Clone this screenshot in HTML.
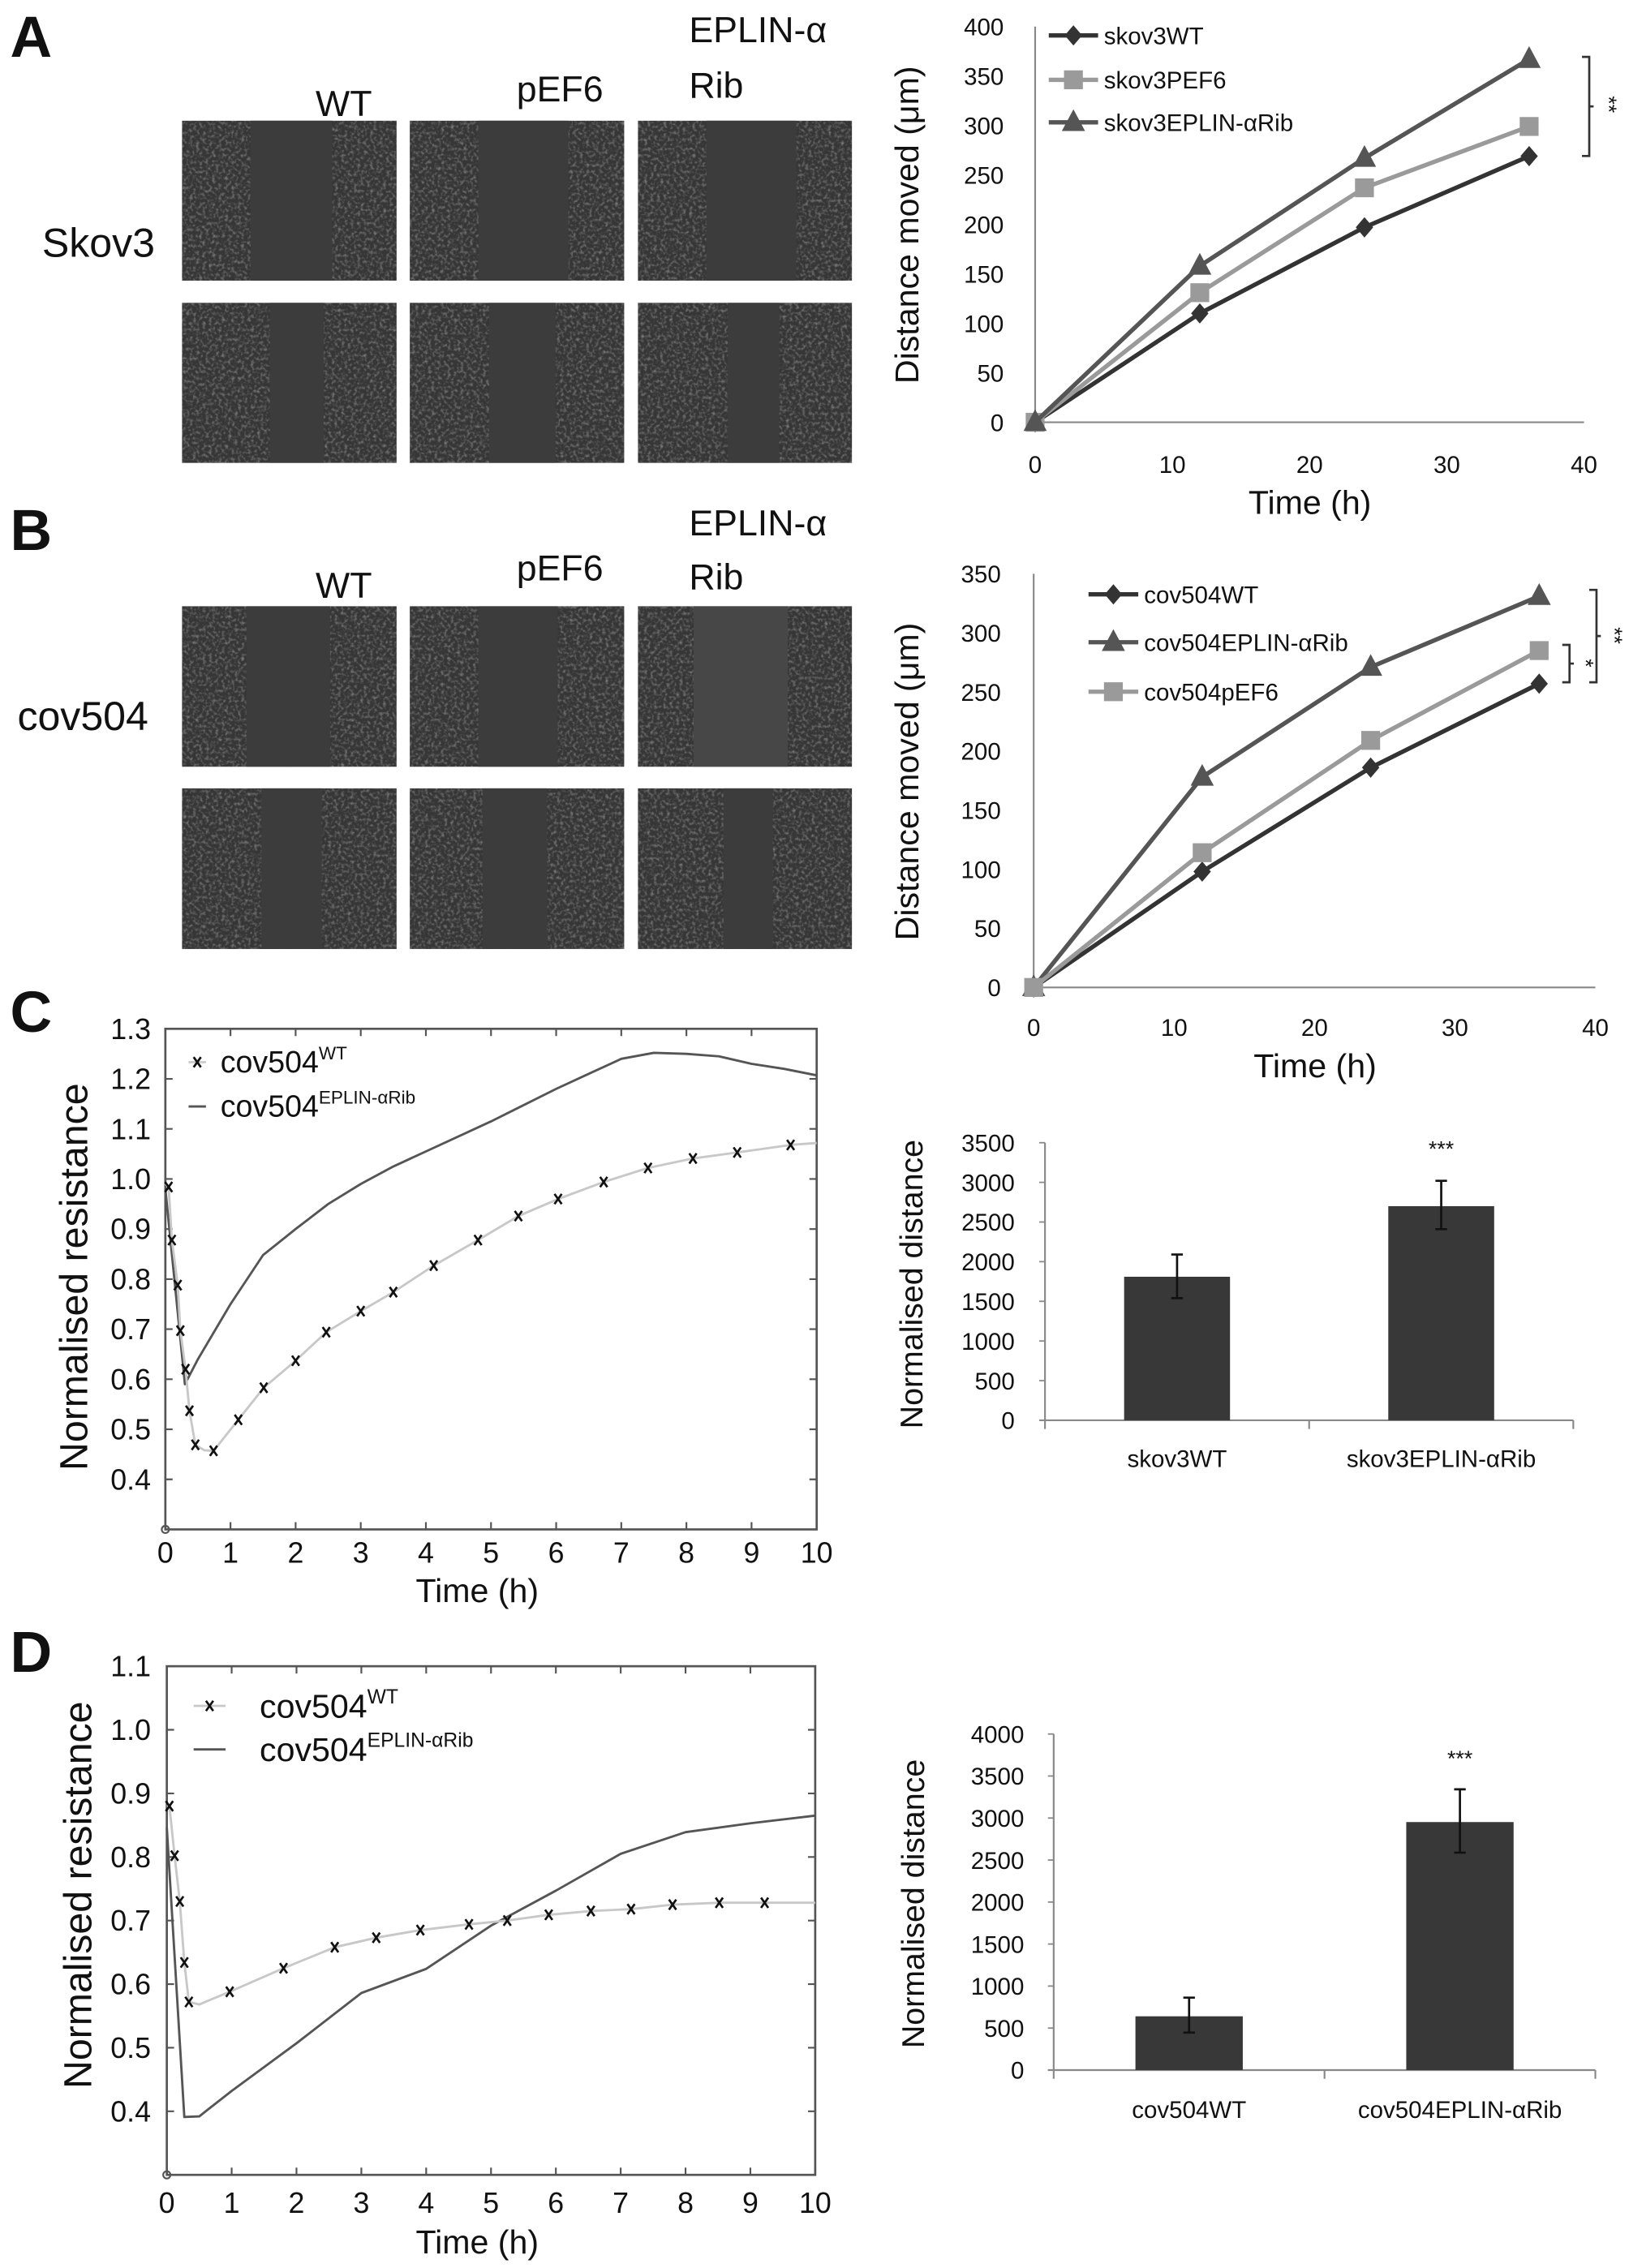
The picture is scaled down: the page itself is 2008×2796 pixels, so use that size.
<!DOCTYPE html>
<html><head><meta charset="utf-8"><style>
html,body{margin:0;padding:0;background:#fff;}
svg{display:block;}
text{font-family:"Liberation Sans",Arial,sans-serif;fill:#111;}
</style></head><body>
<svg id="fig" xmlns="http://www.w3.org/2000/svg" width="2008" height="2796" viewBox="0 0 1123 1563" preserveAspectRatio="none">
<defs>
<filter id="tex" x="0" y="0" width="1" height="1">
<feTurbulence type="fractalNoise" baseFrequency="0.45" numOctaves="2" seed="3" result="n"/>
<feColorMatrix in="n" type="matrix" values="0 0 0 0 0.55  0 0 0 0 0.55  0 0 0 0 0.55  0 0 0 1.1 -0.5" result="c"/>
<feComposite in="c" in2="SourceGraphic" operator="in"/>
</filter>
</defs>
<g id="root"></g>
</svg>
<script>
// ---------- data ----------
const distTime = [0, 12, 24, 36];
const distTicksA = [0, 50, 100, 150, 200, 250, 300, 350, 400];
const distTicksB = [0, 50, 100, 150, 200, 250, 300, 350];
const timeTicks = [0, 10, 20, 30, 40];
const aWT = [0, 110, 197, 269];
const aPEF6 = [0, 131, 237, 299];
const aRib = [0, 158, 267, 367];
const bWT = [0, 98, 186, 257];
const bRib = [0, 178, 271, 331];
const bPEF6 = [0, 114, 209, 285];

const cBarCats = ['skov3WT', 'skov3EPLIN-αRib'];
const cBarVals = [1810, 2700];
const cBarHi = [2090, 3020];
const cBarLo = [1540, 2410];
const cBarTicks = [0, 500, 1000, 1500, 2000, 2500, 3000, 3500];
const dBarCats = ['cov504WT', 'cov504EPLIN-αRib'];
const dBarVals = [640, 2952];
const dBarHi = [862, 3342];
const dBarLo = [446, 2588];
const dBarTicks = [0, 500, 1000, 1500, 2000, 2500, 3000, 3500, 4000];

const hourTicks = [0, 1, 2, 3, 4, 5, 6, 7, 8, 9, 10];
const cResTicks = [0.4, 0.5, 0.6, 0.7, 0.8, 0.9, 1.0, 1.1, 1.2, 1.3];
const dResTicks = [0.4, 0.5, 0.6, 0.7, 0.8, 0.9, 1.0, 1.1];
const cWTh = [0, 0.05, 0.1, 0.19, 0.23, 0.31, 0.37, 0.46, 0.6, 0.74, 1.12, 1.51, 2.0, 2.47, 3.0, 3.5, 4.12, 4.8, 5.42, 6.03, 6.73, 7.41, 8.1, 8.78, 9.6, 10];
const cWTv = [0.99, 0.984, 0.878, 0.788, 0.697, 0.62, 0.537, 0.469, 0.458, 0.457, 0.519, 0.583, 0.637, 0.694, 0.736, 0.774, 0.827, 0.878, 0.926, 0.96, 0.994, 1.022, 1.041, 1.053, 1.068, 1.072];
const cWTmarkIdx = [1, 2, 3, 4, 5, 6, 7, 9, 10, 11, 12, 13, 14, 15, 16, 17, 18, 19, 20, 21, 22, 23, 24];
const cRibh = [0, 0.3, 0.5, 1.0, 1.5, 2.0, 2.5, 3.0, 3.5, 4.0, 5.0, 6.0, 6.5, 7.0, 7.5, 8.0, 8.5, 9.0, 9.5, 10];
const cRibv = [0.98, 0.59, 0.64, 0.75, 0.848, 0.9, 0.95, 0.99, 1.025, 1.055, 1.115, 1.18, 1.21, 1.24, 1.252, 1.25, 1.245, 1.23, 1.22, 1.207];
const dWTh = [0, 0.04, 0.12, 0.2, 0.27, 0.34, 0.5, 0.97, 1.8, 2.59, 3.23, 3.91, 4.66, 5.25, 5.89, 6.54, 7.16, 7.8, 8.52, 9.22, 10];
const dWTv = [0.88, 0.88, 0.802, 0.73, 0.634, 0.572, 0.568, 0.588, 0.625, 0.658, 0.673, 0.685, 0.694, 0.7, 0.709, 0.715, 0.718, 0.725, 0.728, 0.728, 0.728];
const dWTmarkIdx = [1, 2, 3, 4, 5, 7, 8, 9, 10, 11, 12, 13, 14, 15, 16, 17, 18, 19];
const dRibh = [0, 0.27, 0.5, 1, 2, 3, 4, 5, 6, 7, 8, 9, 10];
const dRibv = [0.846, 0.391, 0.392, 0.432, 0.507, 0.586, 0.624, 0.692, 0.747, 0.805, 0.839, 0.853, 0.865];

// ---------- helpers ----------
const NS = 'http://www.w3.org/2000/svg';
const root = document.getElementById('root');
function mk(tag, attrs, parent) {
  const e = document.createElementNS(NS, tag);
  for (const k in attrs) e.setAttribute(k, attrs[k]);
  (parent || root).appendChild(e);
  return e;
}
function txt(s, x, y, size, anchor, parent, extra) {
  const t = mk('text', Object.assign({x: x, y: y, 'font-size': size, 'text-anchor': anchor || 'start'}, extra || {}), parent);
  t.textContent = s;
  return t;
}
function lin(a0, a1, p0, p1) { return v => p0 + (v - a0) * (p1 - p0) / (a1 - a0); }

// ---------- panel letters ----------
[['A', 39], ['B', 379], ['C', 711], ['D', 1152]].forEach(p => {
  const t = txt(p[0], 7, p[1], 40, 'start', root, {'font-weight': 'bold'});
  
  
});

// ---------- micrographs ----------
const imgCols = [[125.5, 273.4], [282.5, 430.3], [439.8, 587.3]];
const imgRows = [[83.2, 193.4], [208.7, 319], [417.8, 528.4], [543.3, 654]];
const wound = [
  [[0.32, 0.70], [0.32, 0.74], [0.32, 0.74]],
  [[0.41, 0.66], [0.37, 0.68], [0.42, 0.66]],
  [[0.30, 0.69], [0.32, 0.69], [0.26, 0.70]],
  [[0.37, 0.65], [0.34, 0.64], [0.40, 0.63]]
];
imgRows.forEach((r, ri) => {
  imgCols.forEach((c, ci) => {
    const g = mk('g', {});
    
    
    const w = c[1] - c[0], h = r[1] - r[0];
    mk('rect', {x: c[0], y: r[0], width: w, height: h, fill: '#363636'}, g);
    mk('rect', {x: c[0], y: r[0], width: w, height: h, fill: '#363636', filter: 'url(#tex)'}, g);
    const wd = wound[ri][ci];
    const fillW = (ri === 2 && ci === 2) ? '#474747' : '#3c3c3c';
    mk('rect', {x: c[0] + wd[0] * w, y: r[0], width: (wd[1] - wd[0]) * w, height: h, fill: fillW}, g);
  });
});
[['WT', 237, 80], ['pEF6', 386, 70], ['EPLIN-α', 475, 29, 'start'], ['Rib', 475, 67.5, 'start'],
 ['WT', 237, 412], ['pEF6', 386, 400], ['EPLIN-α', 475, 369, 'start'], ['Rib', 475, 406, 'start'],
 ['Skov3', 29, 177, 'start', 28], ['cov504', 12, 503, 'start', 28]].forEach((l, i) => {
  const t = txt(l[0], l[1], l[2], l[4] || 25, l[3] || 'middle');
  
  
});

// ---------- distance line charts ----------
function markerAt(kind, x, y, color, g) {
  let e;
  if (kind === 'diamond') e = mk('polygon', {points: `${x},${y-7} ${x+6},${y} ${x},${y+7} ${x-6},${y}`, fill: color}, g);
  else if (kind === 'square') e = mk('rect', {x: x - 6.5, y: y - 6.5, width: 13, height: 13, fill: color}, g);
  else e = mk('polygon', {points: `${x},${y-9} ${x+8},${y+6} ${x-8},${y+6}`, fill: color}, g);
  return e;
}
function distChart(cfg) {
  const g = mk('g', {});
  
  
  const sx = lin(0, 40, cfg.x0, cfg.x1);
  const sy = lin(0, cfg.ymax, cfg.y0, cfg.ytop);
  const yAxis = mk('line', {x1: cfg.x0, y1: cfg.y0, x2: cfg.x0, y2: cfg.ytop, stroke: '#888', 'stroke-width': 1.2}, g);
  
  
  const xAxis = mk('line', {x1: cfg.x0, y1: cfg.y0, x2: cfg.x1, y2: cfg.y0, stroke: '#888', 'stroke-width': 1.2}, g);
  
  
  cfg.yticks.forEach(v => {
    const t = txt(String(v), cfg.ylabX, sy(v) + 6, 16.5, 'end', g);
    
    
  });
  timeTicks.forEach(v => {
    const t = txt(String(v), sx(v), cfg.xlabY, 16.5, 'middle', g);
    
    
  });
  const xt = txt('Time (h)', cfg.xtitleX, cfg.xtitleY, 23, 'middle', g);
  
  
  const yt = txt('Distance moved (μm)', 0, 0, 23, 'middle', g, {transform: `translate(${cfg.ytitleX},${cfg.ytitleY}) rotate(-90)`});
  
  
  cfg.series.forEach((s, si) => {
    const pts = distTime.map((t, i) => sx(t) + ',' + sy(s.vals[i])).join(' ');
    const pl = mk('polyline', {points: pts, fill: 'none', stroke: s.color, 'stroke-width': 3}, g);
    
    
    distTime.forEach((t, i) => {
      const m = markerAt(s.marker, sx(t), sy(s.vals[i]), s.color, g);
      
      
    });
    const ly = cfg.legY[si];
    const ll = mk('line', {x1: cfg.legX0, y1: ly, x2: cfg.legX1, y2: ly, stroke: s.color, 'stroke-width': 3}, g);
    
    
    const lm = markerAt(s.marker, (cfg.legX0 + cfg.legX1) / 2, ly, s.color, g);
    
    
    const lt = txt(s.label, cfg.legX1 + 4, ly + 6, 16.5, 'start', g);
    
    
  });
  return g;
}
function bracket(x, yA, yB, label, lx, ly, g) {
  const p = mk('path', {d: `M${x-5},${yA} L${x},${yA} L${x},${yB} L${x-5},${yB} M${x},${(yA+yB)/2} L${x+3},${(yA+yB)/2}`, fill: 'none', stroke: '#333', 'stroke-width': 1.5}, g);
  
  
  const t = txt(label, 0, 0, 15, 'middle', g, {transform: `translate(${lx},${ly}) rotate(90)`});
  
  
}
const gA = distChart({name: 'chart-a-distance', x0: 713.6, x1: 1092, y0: 291, ytop: 18.3, ymax: 400, yticks: distTicksA,
  ylabX: 692, xlabY: 326, xtitleX: 903, xtitleY: 354, ytitleX: 633, ytitleY: 155,
  legX0: 723, legX1: 757, legY: [24.4, 55, 84.3],
  series: [{label: 'skov3WT', vals: aWT, color: '#333', marker: 'diamond'},
           {label: 'skov3PEF6', vals: aPEF6, color: '#9a9a9a', marker: 'square'},
           {label: 'skov3EPLIN-αRib', vals: aRib, color: '#555', marker: 'triangle'}]});
bracket(1095.6, 39.2, 107.5, '**', 1104, 72, gA);
const gB = distChart({name: 'chart-b-distance', x0: 712.6, x1: 1099.8, y0: 680.5, ytop: 395.4, ymax: 350, yticks: distTicksB,
  ylabX: 690, xlabY: 714, xtitleX: 906.6, xtitleY: 742.5, ytitleX: 633, ytitleY: 538.6,
  legX0: 750.4, legX1: 784.7, legY: [409.6, 442.6, 476.7],
  series: [{label: 'cov504WT', vals: bWT, color: '#333', marker: 'diamond'},
           {label: 'cov504EPLIN-αRib', vals: bRib, color: '#555', marker: 'triangle'},
           {label: 'cov504pEF6', vals: bPEF6, color: '#9a9a9a', marker: 'square'}]});
bracket(1100.6, 406.5, 470.2, '**', 1108, 438, gB);
bracket(1082, 444.4, 470.2, '*', 1088, 457, gB);

// ---------- bar charts ----------
function barChart(cfg) {
  const g = mk('g', {});
  
  
  const sy = lin(0, cfg.ymax, cfg.y0, cfg.ytop);
  const ya = mk('line', {x1: cfg.x0, y1: cfg.y0, x2: cfg.x0, y2: cfg.ytop, stroke: '#888', 'stroke-width': 1.2}, g);
  
  
  const xa = mk('line', {x1: cfg.x0 - 4, y1: cfg.y0, x2: cfg.x1, y2: cfg.y0, stroke: '#888', 'stroke-width': 1.2}, g);
  
  
  [cfg.x0, (cfg.x0 + cfg.x1) / 2, cfg.x1].forEach(x => {
    const tk = mk('line', {x1: x, y1: cfg.y0, x2: x, y2: cfg.y0 + 6, stroke: '#888', 'stroke-width': 1.2}, g);
    
    
  });
  cfg.ticks.forEach(v => {
    const tk = mk('line', {x1: cfg.x0 - 4, y1: sy(v), x2: cfg.x0, y2: sy(v), stroke: '#888', 'stroke-width': 1}, g);
    
    
    const t = txt(String(v), cfg.ylabX, sy(v) + 6, 16.5, 'end', g);
    
    
  });
  const slot = (cfg.x1 - cfg.x0) / cfg.cats.length;
  cfg.cats.forEach((c, i) => {
    const cx = cfg.x0 + slot * (i + 0.5);
    const b = mk('rect', {x: cx - cfg.bw / 2, y: sy(cfg.vals[i]), width: cfg.bw, height: cfg.y0 - sy(cfg.vals[i]), fill: '#383838'}, g);
    
    
    const eb = mk('path', {d: `M${cx},${sy(cfg.hi[i])} L${cx},${sy(cfg.lo[i])} M${cx-4},${sy(cfg.hi[i])} L${cx+4},${sy(cfg.hi[i])} M${cx-4},${sy(cfg.lo[i])} L${cx+4},${sy(cfg.lo[i])}`, stroke: '#111', 'stroke-width': 1.5, fill: 'none'}, g);
    
    
    const t = txt(c, cx, cfg.catY, 16.5, 'middle', g);
    
    
  });
  const st = txt('***', cfg.x0 + slot * 1.5, cfg.starY, 15, 'middle', g);
  
  
  const yt = txt('Normalised distance', 0, 0, 22, 'middle', g, {transform: `translate(${cfg.ytitleX},${cfg.ytitleY}) rotate(-90)`});
  
  
}
barChart({name: 'chart-c-bar', x0: 720.4, x1: 1084.6, y0: 978.8, ytop: 787.5, ymax: 3500, ticks: cBarTicks, cats: cBarCats,
  vals: cBarVals, hi: cBarHi, lo: cBarLo, bw: 73, ylabX: 699.5, catY: 1011, starY: 797, ytitleX: 636, ytitleY: 885});
barChart({name: 'chart-d-bar', x0: 726.4, x1: 1099.8, y0: 1426.6, ytop: 1195, ymax: 4000, ticks: dBarTicks, cats: dBarCats,
  vals: dBarVals, hi: dBarHi, lo: dBarLo, bw: 74, ylabX: 706, catY: 1459.5, starY: 1217, ytitleX: 637, ytitleY: 1312});

// ---------- resistance charts ----------
function resChart(cfg) {
  const g = mk('g', {});
  
  
  const sx = lin(0, 10, cfg.x0, cfg.x1);
  const sy = lin(1.0, cfg.yref, cfg.y1, cfg.yrefPx);
  const top = sy(cfg.ymax), bot = sy(0.3);
  const fr = mk('rect', {x: cfg.x0, y: top, width: cfg.x1 - cfg.x0, height: bot - top, fill: 'none', stroke: '#555', 'stroke-width': 1.5}, g);
  
  
  hourTicks.forEach(h => {
    const tk = mk('path', {d: `M${sx(h)},${bot} L${sx(h)},${bot-5} M${sx(h)},${top} L${sx(h)},${top+5}`, stroke: '#555', 'stroke-width': 1.2}, g);
    
    
    const t = txt(String(h), sx(h), cfg.xlabY, 20, 'middle', g);
    
    
  });
  cfg.ticks.forEach(v => {
    const tk = mk('path', {d: `M${cfg.x0},${sy(v)} L${cfg.x0+5},${sy(v)} M${cfg.x1},${sy(v)} L${cfg.x1-5},${sy(v)}`, stroke: '#555', 'stroke-width': 1.2}, g);
    
    
    const t = txt(v.toFixed(1), 104, sy(v) + 7, 20, 'end', g);
    
    
  });
  const c0 = mk('circle', {cx: cfg.x0, cy: bot, r: 2.5, fill: 'none', stroke: '#555', 'stroke-width': 1.2}, g);
  
  
  const rib = mk('polyline', {points: cfg.ribH.map((h, i) => sx(h) + ',' + sy(cfg.ribV[i])).join(' '), fill: 'none', stroke: '#555', 'stroke-width': 1.6, 'stroke-linejoin': 'round'}, g);
  
  
  const wt = mk('polyline', {points: cfg.wtH.map((h, i) => sx(h) + ',' + sy(cfg.wtV[i])).join(' '), fill: 'none', stroke: '#c8c8c8', 'stroke-width': 1.6, 'stroke-linejoin': 'round'}, g);
  
  
  cfg.markIdx.forEach(i => {
    const x = sx(cfg.wtH[i]), y = sy(cfg.wtV[i]);
    const m = mk('path', {d: `M${x-2.5},${y-3.5} L${x+2.5},${y+3.5} M${x+2.5},${y-3.5} L${x-2.5},${y+3.5}`, stroke: '#111', 'stroke-width': 1.5}, g);
    
    
  });
  const L = cfg.leg;
  const l1 = mk('line', {x1: L.x0, y1: L.y1, x2: L.x1, y2: L.y1, stroke: '#c8c8c8', 'stroke-width': 1.5}, g);
  
  
  const mx = (L.x0 + L.x1) / 2;
  const lm = mk('path', {d: `M${mx-2.5},${L.y1-3.5} L${mx+2.5},${L.y1+3.5} M${mx+2.5},${L.y1-3.5} L${mx-2.5},${L.y1+3.5}`, stroke: '#111', 'stroke-width': 1.5}, g);
  
  
  const l2 = mk('line', {x1: L.x0, y1: L.y2, x2: L.x1, y2: L.y2, stroke: '#555', 'stroke-width': 1.6}, g);
  
  
  [['WT', L.y1], ['EPLIN-αRib', L.y2]].forEach(e => {
    const t = mk('text', {x: L.tx, y: e[1] + L.dy, 'font-size': L.fs}, g);
    
    
    const a = mk('tspan', {}, t); a.textContent = 'cov504';
    const b = mk('tspan', {dy: -L.fs * 0.42, 'font-size': L.fs * 0.6}, t); b.textContent = e[0];
  });
  const xt = txt('Time (h)', 329, cfg.xtitleY, 23, 'middle', g);
  
  
  const yt = txt('Normalised resistance', 0, 0, 27, 'middle', g, {transform: `translate(${cfg.ytitleX},${cfg.ytitleY}) rotate(-90)`});
  
  
}
resChart({name: 'chart-c-resistance', x0: 114, x1: 563, y1: 812.5, yref: 0.4, yrefPx: 1019.5, ymax: 1.3, ticks: cResTicks,
  xlabY: 1077, xtitleY: 1104, ytitleX: 60, ytitleY: 880,
  wtH: cWTh, wtV: cWTv, markIdx: cWTmarkIdx, ribH: cRibh, ribV: cRibv,
  leg: {x0: 130, x1: 142, y1: 732, y2: 762.5, tx: 152, dy: 7, fs: 21}});
resChart({name: 'chart-d-resistance', x0: 115, x1: 562, y1: 1192.1, yref: 0.4, yrefPx: 1455, ymax: 1.1, ticks: dResTicks,
  xlabY: 1525, xtitleY: 1553, ytitleX: 63, ytitleY: 1306,
  wtH: dWTh, wtV: dWTv, markIdx: dWTmarkIdx, ribH: dRibh, ribV: dRibv,
  leg: {x0: 133.5, x1: 155.5, y1: 1175.6, y2: 1205.6, tx: 179, dy: 8, fs: 23}});
</script>
</body></html>
